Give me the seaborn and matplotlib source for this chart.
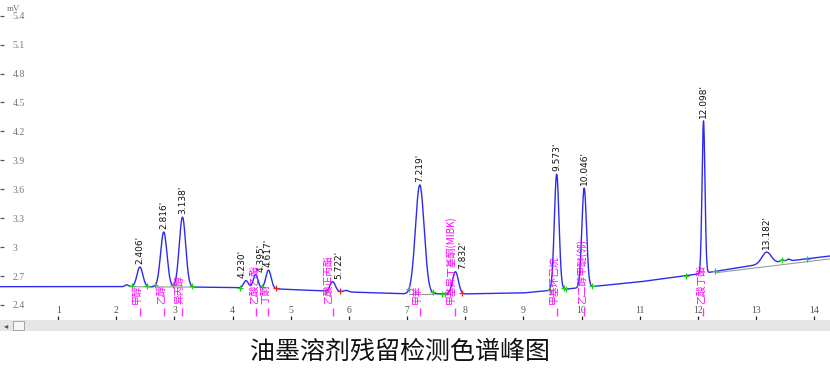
import numpy as np
import pandas as pd
import matplotlib
matplotlib.use("Agg")
import matplotlib.pyplot as plt
import matplotlib.transforms as mtransforms
from matplotlib.patches import Rectangle
import seaborn as sns

# ---------------- data ----------------
# baseline anchors (min, mV)
base_t = [0, 2, 3.5, 4.5, 5, 6, 7, 8, 9, 10, 11, 12, 13, 14.3]
base_v = [2.59, 2.59, 2.585, 2.575, 2.56, 2.535, 2.515, 2.515, 2.525, 2.58, 2.64, 2.72, 2.815, 2.91]

# peak table: retention time (min), height above baseline (mV), width (sigma, min)
peak_rt = [2.18, 2.406, 2.816, 3.138, 4.230, 4.395, 4.617, 5.722, 5.95, 7.219, 7.832,
           9.573, 10.046, 12.098, 13.182, 13.45, 13.56]
peak_h = [0.02, 0.205, 0.57, 0.725, 0.075, 0.14, 0.19, 0.10, 0.015, 1.13, 0.23,
          1.20, 1.03, 1.58, 0.12, 0.02, 0.02]
peak_w = [0.03, 0.05, 0.055, 0.055, 0.04, 0.04, 0.045, 0.045, 0.04, 0.075, 0.05,
          0.04, 0.04, 0.025, 0.08, 0.03, 0.03]

# labelled peaks (retention-time labels)
rt_labels = ["2.406'", "2.816'", "3.138'", "4.230'", "4.395'", "4.617'", "5.722'",
             "7.219'", "7.832'", "9.573'", "10.046'", "12.098'", "13.182'"]
rt_values = [2.406, 2.816, 3.138, 4.230, 4.395, 4.617, 5.722, 7.219, 7.832,
             9.573, 10.046, 12.098, 13.182]

# compound names
name_rt = [2.406, 2.816, 3.138, 4.395, 4.617, 5.722, 7.219, 7.832, 9.573, 10.046, 12.098]
names = ["甲醇", "乙醇", "异丙醇", "乙酸乙酯", "丁酮", "乙酸正丙酯", "甲苯",
         "甲基异丁基酮(MIBK)", "甲基环己烷", "乙二醇甲醚(邻)", "乙酸丁酯"]

# integration marks
green_t = [2.27, 2.53, 2.67, 2.98, 3.30, 4.12, 4.50, 5.60, 7.03, 7.44, 7.60, 7.66,
           9.45, 9.70, 9.74, 10.18, 11.80, 12.30, 13.45, 13.88]
red_t = [4.74, 5.85, 7.95]

yticks = [2.4, 2.7, 3.0, 3.3, 3.6, 3.9, 4.2, 4.5, 4.8, 5.1, 5.4]
ytick_labels = ["2.4", "2.7", "3", "3.3", "3.6", "3.9", "4.2", "4.5", "4.8", "5.1", "5.4"]
xticks = list(range(1, 15))

title = "油墨溶剂残留检测色谱峰图"

# ---------------- build trace ----------------
t = np.arange(0, 14.3, 0.002)
sig = np.interp(t, base_t, base_v)
for rt, h, w in zip(peak_rt, peak_h, peak_w):
    sig = sig + h * np.exp(-0.5 * ((t - rt) / w) ** 2)
df = pd.DataFrame({"time": t, "mV": sig})

def trace_at(x):
    return float(np.interp(x, t, sig))

# ---------------- figure ----------------
sns.set_style("white")
plt.rcParams["font.family"] = ["Noto Sans CJK SC", "DejaVu Sans"]

W, H = 830, 372
fig = plt.figure(figsize=(W / 100, H / 100), dpi=100)
ax_bottom_px = 320
ax = fig.add_axes([0, 1 - ax_bottom_px / H, 1, ax_bottom_px / H])
ax.patch.set_alpha(0)

sns.lineplot(data=df, x="time", y="mV", ax=ax, color="#2b2bf0", linewidth=1.0,
             estimator=None, sort=False)

# integration baselines (grey)
for a, b in [(2.27, 2.53), (2.67, 2.98), (2.98, 3.30), (7.03, 7.44), (12.3, 14.3)]:
    ax.plot([a, b], [np.interp(a, base_t, base_v) - (0.015 if a > 12 else 0),
                     np.interp(b, base_t, base_v) - (0.03 if a > 12 else 0)],
            color="#9a9a9a", lw=0.8, zorder=1)

ax.plot(green_t, [trace_at(x) for x in green_t], linestyle="none", marker="+",
        color="#22cc22", markersize=5, markeredgewidth=0.9, zorder=4)
ax.plot(red_t, [trace_at(x) for x in red_t], linestyle="none", marker="+",
        color="#ee2222", markersize=5, markeredgewidth=0.9, zorder=4)

rt_dx = {4.230: -0.06, 4.395: 0.09, 5.722: 0.11, 7.832: 0.12}
for lab, rt in zip(rt_labels, rt_values):
    dx = rt_dx.get(rt, 0.0)
    ax.text(rt + dx, trace_at(rt) + 0.03, lab, rotation=90, ha="center", va="bottom",
            fontsize=6.5, color="#111111", family=["DejaVu Sans"])

name_dx = {4.395: -0.03, 5.722: -0.08, 7.832: -0.08}
for nm, rt in zip(names, name_rt):
    ax.text(rt + name_dx.get(rt, -0.05), 2.415, nm, rotation=90, ha="center", va="bottom",
            fontsize=7, color="#ff00ff",
            family=["Noto Sans CJK SC", "DejaVu Sans"], zorder=5)

# pink markers below the trace
trans = mtransforms.blended_transform_factory(ax.transData, ax.transAxes)
ax.vlines(name_rt, 0.013, 0.036, color="#ff33ff", lw=1.0, transform=trans)

ax.set_xlim(0, W / 58.15)
ax.set_ylim(2.4 - (ax_bottom_px - 305) / 96.3, 5.4 + 15.7 / 96.3)
ax.set_xticks(xticks)
ax.set_xticklabels([str(v) for v in xticks])
ax.set_yticks(yticks)
ax.set_yticklabels(ytick_labels)
ax.set_xlabel("")
ax.set_ylabel("")
for s in ax.spines.values():
    s.set_visible(False)

ax.tick_params(axis="x", direction="in", length=3, width=0.9, color="#222222",
               pad=-10, labelsize=7, labelcolor="#555555", bottom=True)
ax.tick_params(axis="y", direction="in", length=3, width=0.9, color="#555555",
               pad=-9, labelsize=7, labelcolor="#777777", left=True)
for lab in ax.get_yticklabels():
    lab.set_horizontalalignment("left")
    lab.set_family(["Liberation Serif"])
for lab in ax.get_xticklabels():
    lab.set_family(["Liberation Serif"])

ax.text(0.008, 0.985, "mV", transform=ax.transAxes, fontsize=6.5, color="#777777",
        ha="left", va="top", family=["Liberation Serif"])

# scrollbar strip
fig.patches.append(Rectangle((0, 1 - 331 / H), 1, 11 / H, transform=fig.transFigure,
                             facecolor="#e6e6e6", edgecolor="none", zorder=0))
fig.patches.append(Rectangle((13 / W, 1 - 330 / H), 11 / W, 9 / H, transform=fig.transFigure,
                             facecolor="#f6f6f6", edgecolor="#9a9a9a", lw=0.6, zorder=1))
fig.text(4 / W, 1 - 325.5 / H, "◂", fontsize=6, color="#555555", va="center",
         family=["DejaVu Sans"])

fig.text(400 / W, 1 - 352 / H, title, fontsize=18, color="#111111", ha="center",
         va="center", family=["Noto Sans CJK SC", "DejaVu Sans"])

fig.savefig("out.png", dpi=100, facecolor="white")
